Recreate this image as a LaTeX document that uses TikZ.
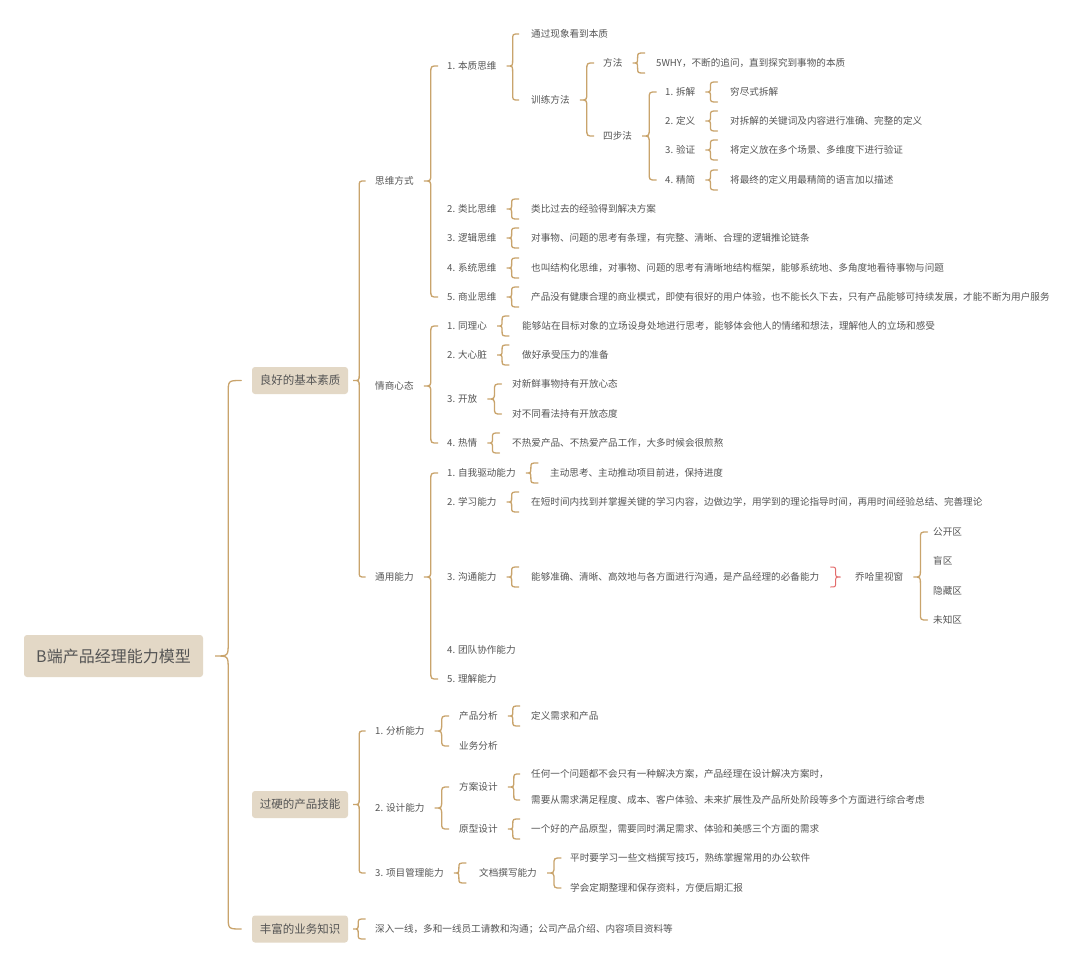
\documentclass[tikz,border=0pt]{standalone}
\usepackage{fontspec}
\setmainfont{Noto Sans CJK SC}
\usetikzlibrary{calc}
\definecolor{branch}{HTML}{C9A46C}
\definecolor{topicfill}{HTML}{E3D8C6}
\definecolor{ink}{HTML}{555555}
\definecolor{summary}{HTML}{E36C6C}

% brace to several children: [gap]{size}{parent}{first}{last}
\newcommand{\mbr}[5][8]{%
  \draw[brline] let \p1=($(#3.east)+(#1pt,0pt)$), \p2=(#4.west), \p3=(#5.west) in
    (\x1+2*#2pt,\y2) .. controls (\x1+#2pt,\y2) .. (\x1+#2pt,\y2-#2pt)
    -- (\x1+#2pt,\y1+#2pt) .. controls (\x1+#2pt,\y1) .. (\x1,\y1)
    .. controls (\x1+#2pt,\y1) .. (\x1+#2pt,\y1-#2pt)
    -- (\x1+#2pt,\y3+#2pt) .. controls (\x1+#2pt,\y3) .. (\x1+2*#2pt,\y3);}
% brace to one child: [gap]{parent}{child}
\newcommand{\sbr}[3][8]{%
  \draw[brline] let \p1=($(#2.east)+(#1pt,0pt)$), \p2=(#3.west) in
    (\x1+12pt,\y2+10pt) .. controls (\x1+5pt,\y2+10pt) .. (\x1+5pt,\y2+5pt)
    .. controls (\x1+5pt,\y1) .. (\x1,\y1)
    .. controls (\x1+5pt,\y1) .. (\x1+5pt,\y2-5pt)
    .. controls (\x1+5pt,\y2-10pt) .. (\x1+12pt,\y2-10pt);}

\begin{document}
\begin{tikzpicture}[
  x=1pt,y=-1pt,
  txt/.style={anchor=west,inner xsep=2pt,inner ysep=1pt,text=ink,
    font=\fontsize{9.6}{11}\selectfont},
  topic/.style={fill=topicfill,rounded corners=3pt,text=ink,inner sep=0pt,
    minimum width=96pt,minimum height=27pt,font=\fontsize{11.5}{13}\selectfont},
  rootbox/.style={topic,minimum width=179pt,minimum height=42pt,
    font=\fontsize{16}{19}\selectfont},
  brline/.style={draw=branch,line width=1.3pt,line cap=round},
  sumline/.style={draw=summary,line width=1pt,line cap=round}
]
\useasboundingbox[fill=white] (0,0) rectangle (1080,967);

% centre and main topics
\node[rootbox] (root) at (113.5,656) {B端产品经理能力模型};
\node[topic] (basic) at (300,380.5) {良好的基本素质};
\node[topic] (skill) at (300,804.5) {过硬的产品技能};
\node[topic] (biz) at (300,929) {丰富的业务知识};
\mbr[12]{13}{root}{basic}{biz}

% good basic quality
\node[txt] (think) at (373,181) {思维方式};
\node[txt] (eq) at (373,386) {情商心态};
\node[txt] (general) at (373,577) {通用能力};
\mbr[5]{6}{basic}{think}{general}

% ways of thinking
\node[txt] (t1) at (445,66) {1. 本质思维};
\node[txt] (t2) at (445,209) {2. 类比思维};
\node[txt] (t3) at (445,238) {3. 逻辑思维};
\node[txt] (t4) at (445,268) {4. 系统思维};
\node[txt] (t5) at (445,297) {5. 商业思维};
\mbr{7}{think}{t1}{t5}

\node[txt] (t1a) at (529,34) {通过现象看到本质};
\node[txt] (t1b) at (529,100) {训练方法};
\mbr{6}{t1}{t1a}{t1b}
\node[txt] (way) at (601,63) {方法};
\node[txt] (four) at (601,136) {四步法};
\mbr{7}{t1b}{way}{four}
\node[txt] (wayd) at (654,63) {5WHY，不断的追问，直到探究到事物的本质};
\sbr{way}{wayd}
\node[txt] (s1) at (663,92) {1. 拆解};
\node[txt] (s2) at (663,121) {2. 定义};
\node[txt] (s3) at (663,150) {3. 验证};
\node[txt] (s4) at (663,180) {4. 精简};
\mbr{7}{four}{s1}{s4}
\node[txt] (s1d) at (728,92) {穷尽式拆解};
\node[txt] (s2d) at (728,121) {对拆解的关键词及内容进行准确、完整的定义};
\node[txt] (s3d) at (728,150) {将定义放在多个场景、多维度下进行验证};
\node[txt] (s4d) at (728,180) {将最终的定义用最精简的语言加以描述};
\sbr{s1}{s1d}
\sbr{s2}{s2d}
\sbr{s3}{s3d}
\sbr{s4}{s4d}

\node[txt] (t2d) at (529,209) {类比过去的经验得到解决方案};
\node[txt] (t3d) at (529,238) {对事物、问题的思考有条理，有完整、清晰、合理的逻辑推论链条};
\node[txt] (t4d) at (529,268) {也叫结构化思维，对事物、问题的思考有清晰地结构框架，能够系统地、多角度地看待事物与问题};
\node[txt] (t5d) at (529,297) {产品没有健康合理的商业模式，即使有很好的用户体验，也不能长久下去，只有产品能够可持续发展，才能不断为用户服务};
\sbr{t2}{t2d}
\sbr{t3}{t3d}
\sbr{t4}{t4d}
\sbr{t5}{t5d}

% EQ
\node[txt] (e1) at (445,326) {1. 同理心};
\node[txt] (e2) at (445,355) {2. 大心脏};
\node[txt] (e3) at (445,399) {3. 开放};
\node[txt] (e4) at (445,443) {4. 热情};
\mbr{7}{eq}{e1}{e4}
\node[txt] (e1d) at (520,326) {能够站在目标对象的立场设身处地进行思考，能够体会他人的情绪和想法，理解他人的立场和感受};
\node[txt] (e2d) at (520,355) {做好承受压力的准备};
\node[txt] (e3a) at (510,384) {对新鲜事物持有开放心态};
\node[txt] (e3b) at (510,414) {对不同看法持有开放态度};
\node[txt] (e4d) at (510,443) {不热爱产品、不热爱产品工作，大多时候会很煎熬};
\sbr{e1}{e1d}
\sbr{e2}{e2d}
\mbr{7}{e3}{e3a}{e3b}
\sbr{e4}{e4d}

% general abilities
\node[txt] (g1) at (445,473) {1. 自我驱动能力};
\node[txt] (g2) at (445,502) {2. 学习能力};
\node[txt] (g3) at (445,577) {3. 沟通能力};
\node[txt] (g4) at (445,650) {4. 团队协作能力};
\node[txt] (g5) at (445,679) {5. 理解能力};
\mbr{7}{general}{g1}{g5}
\node[txt] (g1d) at (548,473) {主动思考、主动推动项目前进，保持进度};
\node[txt] (g2d) at (529,502) {在短时间内找到并掌握关键的学习内容，边做边学，用学到的理论指导时间，再用时间经验总结、完善理论};
\node[txt] (g3d) at (529,577) {能够准确、清晰、高效地与各方面进行沟通，是产品经理的必备能力};
\sbr{g1}{g1d}
\sbr{g2}{g2d}
\sbr{g3}{g3d}
\node[txt] (johari) at (853,577) {乔哈里视窗};
\draw[sumline] let \p1=($(g3d.east)!0.45!(johari.west)$) in
  ($(\x1-5pt,\y1+10pt)$) .. controls (\x1,\y1+10pt) .. (\x1,\y1+5pt)
  .. controls (\x1,\y1) .. (\x1+5pt,\y1)
  .. controls (\x1,\y1) .. (\x1,\y1-5pt)
  .. controls (\x1,\y1-10pt) .. (\x1-5pt,\y1-10pt);
\node[txt] (jw1) at (931,532) {公开区};
\node[txt] (jw2) at (931,561) {盲区};
\node[txt] (jw3) at (931,591) {隐藏区};
\node[txt] (jw4) at (931,620) {未知区};
\mbr{7}{johari}{jw1}{jw4}

% product skills
\node[txt] (k1) at (373,731) {1. 分析能力};
\node[txt] (k2) at (373,808) {2. 设计能力};
\node[txt] (k3) at (373,873) {3. 项目管理能力};
\mbr[5]{6}{skill}{k1}{k3}
\node[txt] (k1a) at (457,716) {产品分析};
\node[txt] (k1b) at (457,746) {业务分析};
\mbr{7}{k1}{k1a}{k1b}
\node[txt] (k1ad) at (529,716) {定义需求和产品};
\sbr{k1a}{k1ad}
\node[txt] (k2a) at (457,787) {方案设计};
\node[txt] (k2b) at (457,829) {原型设计};
\mbr{7}{k2}{k2a}{k2b}
\node[txt] (k2a1) at (529,774) {任何一个问题都不会只有一种解决方案，产品经理在设计解决方案时，};
\node[txt] (k2a2) at (529,800) {需要从需求满足程度、成本、客户体验、未来扩展性及产品所处阶段等多个方面进行综合考虑};
\mbr{6}{k2a}{k2a1}{k2a2}
\node[txt] (k2bd) at (529,829) {一个好的产品原型，需要同时满足需求、体验和美感三个方面的需求};
\sbr{k2b}{k2bd}
\node[txt] (k3a) at (477,873) {文档撰写能力};
\sbr{k3}{k3a}
\node[txt] (k3a1) at (568,858) {平时要学习一些文档撰写技巧，熟练掌握常用的办公软件};
\node[txt] (k3a2) at (568,888) {学会定期整理和保存资料，方便后期汇报};
\mbr{7}{k3a}{k3a1}{k3a2}

% business knowledge
\node[txt] (bizd) at (373,929) {深入一线，多和一线员工请教和沟通；公司产品介绍、内容项目资料等};
\sbr[5]{biz}{bizd}
\end{tikzpicture}
\end{document}
